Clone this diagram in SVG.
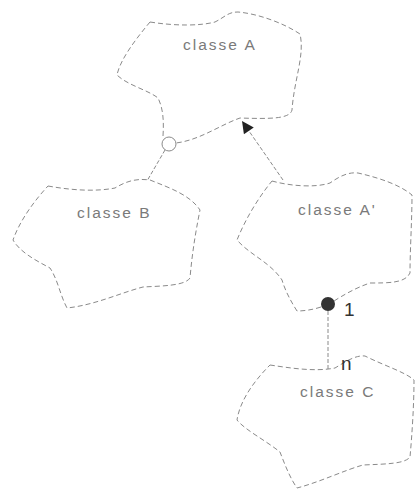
<svg xmlns="http://www.w3.org/2000/svg" width="417" height="491" viewBox="0 0 417 491">
<style>
.cloud{fill:none;stroke:#8a8a8a;stroke-width:1;stroke-dasharray:5,3}
.conn{fill:none;stroke:#8a8a8a;stroke-width:1;stroke-dasharray:4,2}
.lbl{font-family:"Liberation Sans",Arial,sans-serif;font-size:15.5px;letter-spacing:2px;fill:#7a7a7a}
.mult{font-family:"Liberation Sans",Arial,sans-serif;font-size:19px;fill:#333}
</style>
<defs>
<marker id="tri" viewBox="0 0 10 10" refX="10" refY="5" markerWidth="19" markerHeight="12" markerUnits="userSpaceOnUse" orient="auto">
<path d="M0,0 L10,5 L0,10 z" fill="#222"/>
</marker>
</defs>
<rect width="417" height="491" fill="#fff"/>
<g id="classeA">
<path class="cloud" d="M150,22 C175,26 200,26 215,22 C225,17 228,12 238,12 C260,14 285,24 300,34 C305,55 294,80 292,110 C290,119 270,119 240,118 C220,125 200,140 176,143 M163,136 C164,120 163,108 158,98 C148,90 127,85 117,75 C120,60 135,40 150,22"/>
<text class="lbl" x="183" y="50">classe A</text>
</g>
<g id="classeB">
<path class="cloud" d="M48,186 C70,190 95,192 115,188 C125,182 135,178 150,180 C170,188 190,195 200,210 C195,235 192,255 190,278 C185,286 160,286 143,287 C120,293 95,305 67,308 C60,295 58,280 50,268 C35,260 20,252 13,240 C20,220 35,200 48,186 Z"/>
<text class="lbl" x="77" y="218">classe B</text>
</g>
<g id="classeA2">
<path class="cloud" d="M272,181 C290,186 315,188 330,183 C340,176 348,172 358,173 C380,178 400,185 412,195 C412,220 410,250 410,273 C405,283 390,283 370,283 C355,288 342,296 334,301 M321,307 C312,310 303,311 297,311 C290,300 285,290 282,280 C270,262 250,255 237,240 C245,220 258,198 272,181"/>
<text class="lbl" x="298" y="215">classe A'</text>
</g>
<g id="classeC">
<path class="cloud" d="M270,365 C290,368 315,372 335,368 C345,362 355,355 365,356 C385,366 405,372 414,380 C414,405 412,435 410,457 C405,464 385,464 363,465 C345,470 320,482 297,488 C290,478 285,465 280,452 C265,440 245,430 237,420 C240,400 255,380 270,365 Z"/>
<text class="lbl" x="300" y="397">classe C</text>
</g>
<g id="connectors">
<circle cx="169" cy="144" r="7" fill="#fff" stroke="#8a8a8a" stroke-width="1"/>
<line class="conn" x1="165" y1="150" x2="147" y2="181"/>
<line class="conn" x1="283" y1="180" x2="242" y2="121" marker-end="url(#tri)"/>
<circle cx="328" cy="304" r="7" fill="#333"/>
<line class="conn" x1="328" y1="311" x2="328" y2="369" stroke-dasharray="2,2"/>
<text class="mult" x="344" y="316">1</text>
<text class="mult" x="341" y="370">n</text>
</g>
</svg>
